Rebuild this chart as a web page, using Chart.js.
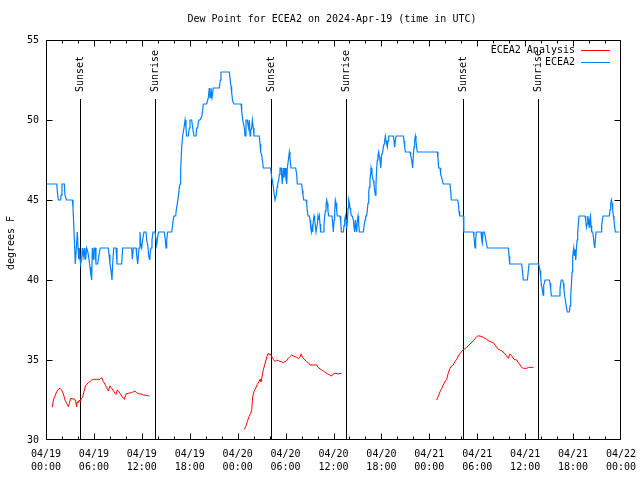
<!DOCTYPE html>
<html><head><meta charset="utf-8">
<script src="https://cdn.jsdelivr.net/npm/chart.js@4"></script>
<style>html,body{margin:0;padding:0;background:#fff}#wrap{width:640px;height:480px}</style>
</head><body><div id="wrap"><canvas id="c"></canvas></div>
<script>
// hours since 2024-04-19 00:00 UTC
const blueHours = [0,1.34,1.46,1.54,1.84,1.88,2.0,2.3,2.38,2.55,3.3,3.38,3.46,3.59,3.67,3.8,3.92,4.01,4.09,4.17,4.26,4.34,4.47,4.55,4.67,4.8,4.88,4.97,5.09,5.22,5.38,5.51,5.63,5.72,5.8,5.93,6.01,6.14,6.26,6.47,6.68,6.8,7.81,7.89,8.01,8.14,8.26,8.35,8.47,8.77,8.89,9.47,9.6,10.73,10.81,10.94,11.27,11.35,11.48,11.65,11.77,11.85,11.98,12.1,12.27,12.52,12.61,12.73,12.86,12.94,13.02,13.15,13.27,13.4,13.65,13.86,13.98,14.11,14.82,14.94,15.03,15.11,15.24,15.74,15.82,15.94,16.03,16.24,16.32,16.45,16.57,16.7,16.78,16.86,16.99,17.11,17.28,17.41,17.53,17.61,17.82,17.95,18.03,18.24,18.37,18.53,18.78,18.87,18.99,19.12,19.28,19.49,19.62,19.7,20.12,20.33,20.45,20.54,20.66,20.79,20.95,21.7,21.83,21.91,22.96,23.04,23.17,23.25,23.37,23.54,24.42,24.5,24.63,24.84,24.92,25.04,25.21,25.34,25.46,25.55,25.63,25.75,25.84,25.96,26.04,26.71,26.8,26.88,27.01,27.09,27.22,28.13,28.26,28.34,28.47,28.59,28.68,28.76,28.84,28.93,29.01,29.14,29.22,29.3,29.45,29.51,29.59,29.72,29.8,29.93,30.05,30.14,30.22,30.35,30.47,30.55,30.68,31.26,31.39,31.47,32.01,32.1,32.18,32.27,32.56,32.64,32.72,32.81,32.98,33.06,33.14,33.23,33.31,33.39,33.48,33.56,33.64,33.73,33.81,33.89,33.98,34.06,34.14,34.23,34.31,34.39,34.73,34.81,34.9,34.98,35.06,35.15,35.23,35.31,35.4,35.81,35.9,35.98,36.07,36.15,36.23,36.32,36.4,36.48,36.82,36.91,36.99,37.24,37.32,37.4,37.49,37.57,37.65,37.74,37.82,37.9,37.99,38.07,38.15,38.24,38.36,38.49,38.57,38.65,38.74,38.82,38.9,38.99,39.07,39.15,39.24,39.74,39.86,39.95,40.03,40.15,40.24,40.32,40.41,40.49,40.57,40.66,40.7,40.82,40.99,41.07,41.15,41.24,41.32,41.41,41.49,41.57,41.66,41.74,41.82,41.91,42.03,42.16,42.24,42.33,42.41,42.49,42.58,42.66,42.74,42.83,42.91,43.49,43.58,43.66,43.74,43.83,44.75,44.83,44.91,45.0,45.58,45.66,45.79,45.91,46.0,46.08,46.16,46.25,46.33,46.41,46.5,49.0,49.08,49.17,49.34,49.42,49.55,49.63,49.75,50.58,50.67,50.75,51.55,51.63,51.72,51.8,52.26,52.3,52.34,53.51,53.59,53.72,53.8,53.89,54.47,54.56,54.64,54.73,54.89,55.02,55.1,55.27,57.9,57.98,58.06,59.56,59.65,59.77,60.27,60.36,60.48,61.69,61.78,61.86,61.94,62.03,62.15,62.24,62.32,62.4,62.49,63.03,63.11,63.2,63.28,64.28,64.36,64.45,64.53,64.7,64.78,64.86,64.95,65.07,65.2,65.28,65.53,65.62,65.7,65.78,65.87,65.95,66.08,66.16,66.25,66.33,66.41,66.5,66.58,66.66,66.75,67.5,67.58,67.67,67.75,67.83,67.92,68.0,68.08,68.17,68.25,68.33,68.46,68.54,68.62,68.71,68.79,68.87,69.5,69.58,69.67,69.75,70.54,70.63,70.71,70.79,70.88,70.96,71.04,71.12,71.21,71.29,71.79];
const blueDew = [46,46,45.3,45,45,45.3,46,46,45.3,45,45,44.5,43.6,42,41,42,43,42,41.3,42,41.3,41,41.3,42,41.5,42,41.3,41.3,42,41.8,41.3,40.8,40.3,40,42,41.3,42,42,41,41,41.7,42,42,41.6,41,40.6,40,41,42,42,41,41,42,42,41.3,42,42,41.6,41,42,43,42.3,42,42.5,43,43,42.5,42.2,41.5,41.3,41.6,42,42.5,43,43,42.2,42.7,43,43,42.5,42,42.5,43,43,43.3,43.8,44,44,44.4,44.8,45.2,45.8,46,46.8,48.3,49,49.5,50,49.5,49,49,49.5,50,50,49.5,49,49,49.5,49.5,50,50,50.2,50.6,51,51,51.4,52,51.4,52,51.4,52,52,52.5,53,53,52.6,52.1,51.7,51.2,51,51,50.6,50,49.5,49,50,50,49.5,50,49,49.3,49.5,50,49.5,49,49,48.5,48,47.8,47.5,47,47,46.4,46.25,45.8,45.3,45,45,45.3,45.8,46,46.25,46.6,47,47,46.5,46,47,46.4,47,46.3,46,47,47.5,48,47.6,47,47,46.6,46,46,45.6,45.3,45,45,44.8,44.3,44,44,43.75,43.3,43,43.3,43,43.75,44,43.75,43.4,43,43,43.5,44,43.75,44,43.5,43,43,43.5,44,44.3,44.7,45,44.8,44.3,44,44,43.5,43,43.75,44.3,45,44.8,44.3,44,44,43.6,43,43,43.4,43.75,44,43.75,43.2,43.6,44.5,45,44.8,44.5,44.3,44,44,43.75,43.3,43,43.75,43.3,43,43.75,44,43.5,43,43,43.5,43.75,44,44,44.4,44.8,45.5,45.8,46.25,46.7,47,46.6,46.2,46,45.6,45.3,46,47,47.5,47.8,48,47.7,47.5,47,47.8,48,48.3,48.5,48.7,49,48.7,48.5,48.3,48.7,49,49,48.7,48.3,48.7,49,49,48.7,48.3,48,48,47.8,47.5,47,47.8,48.3,48.7,49,48.7,48.3,48,48,47.6,47,47,46.6,46.4,46.2,46,46,45.6,45,45,44.8,44.3,44,44,43.5,43,43,42.7,42,42.5,43,43,42.5,42.3,43,43,42.7,42.4,42,42,41.5,41,41,40.6,40,40,40.4,41,41,40.8,40.6,40.2,39.7,39.4,39.06,39.7,39.8,40,40,39.8,39.4,39,39,39.4,39.8,40,40,39.8,39.4,39,38.6,38.2,38,38,38.4,39,39.6,40.5,41.5,42,41.5,41.9,41.25,41.9,42.5,43,43.5,44,44,43.75,43.3,43.5,44,43.75,43.3,43.75,44,43.4,43,43,42.7,42.3,42,42.5,43,43,43.4,43.75,44,44,44.4,44.8,45,44.8,44.4,44,43.75,43.3,43,43];

const redHours = [0.79,0.92,1.13,1.34,1.54,1.75,1.96,2.17,2.38,2.59,2.8,2.92,3.09,3.42,3.59,3.71,3.84,3.92,4.05,4.17,4.3,4.42,4.59,4.76,4.93,5.09,5.3,5.51,5.72,5.93,6.34,6.76,6.97,7.18,7.39,7.6,7.81,8.01,8.22,8.43,8.64,8.77,8.93,9.06,9.27,9.47,9.68,9.81,10.02,10.31,10.73,11.14,11.35,11.65,11.9,12.19,12.61,12.94,
  18,
  24.84,25.04,25.21,25.42,25.63,25.76,25.88,26.05,26.25,26.46,26.67,26.8,26.92,27.09,27.21,27.38,27.55,27.72,27.84,27.96,28.09,28.26,28.47,28.68,28.88,29.09,29.3,29.51,29.72,29.93,30.14,30.34,30.55,30.76,30.97,31.18,31.39,31.6,31.8,31.93,32.05,32.22,32.43,32.64,32.85,33.06,33.47,33.89,34.1,34.31,34.52,34.73,34.94,35.15,35.35,35.56,35.77,35.98,36.19,36.61,37.02,
  43,
  48.92,49.13,49.34,49.55,49.75,49.96,50.17,50.38,50.58,50.79,51.0,51.21,51.42,51.63,51.84,52.05,52.25,52.67,53.09,53.51,53.93,54.05,54.34,54.76,55.18,55.6,56.01,56.22,56.64,57.06,57.48,57.77,57.89,58.1,58.31,58.61,58.94,59.15,59.36,59.57,59.78,60.19,60.4,61.03];
const redDew = [32.04,32.5,32.75,33.02,33.17,33.23,33.12,32.88,32.5,32.29,32.08,32.29,32.6,32.56,32.56,32.4,32.08,32.4,32.33,32.5,32.4,32.6,32.67,33.02,33.38,33.48,33.58,33.65,33.75,33.79,33.79,33.79,33.9,33.65,33.48,33.27,33.06,33.38,33.23,33.08,32.92,32.85,33.13,33.06,32.92,32.75,32.6,32.54,32.88,32.92,32.96,33.06,32.96,32.88,32.88,32.81,32.79,32.75,
  null,
  30.67,30.88,31.15,31.46,31.67,31.88,32.71,33.02,33.23,33.48,33.65,33.79,33.65,34.06,34.38,34.69,35.0,35.31,35.42,35.31,35.38,35.21,35.04,34.9,35.0,34.96,34.92,34.88,34.83,34.9,34.96,35.1,35.21,35.31,35.25,35.21,35.17,35.1,35.17,35.38,35.25,35.1,35.0,34.9,34.83,34.69,34.69,34.69,34.52,34.44,34.38,34.31,34.23,34.17,34.1,34.06,34.0,34.13,34.17,34.13,34.17,
  null,
  32.5,32.75,33.02,33.23,33.44,33.65,33.79,34.2,34.48,34.63,34.69,34.9,35.04,35.25,35.42,35.52,35.63,35.79,36.0,36.21,36.46,36.5,36.5,36.42,36.29,36.15,36.08,35.94,35.67,35.58,35.38,35.17,35.1,35.38,35.27,35.04,35.0,34.83,34.69,34.54,34.48,34.48,34.54,34.54];

const eventHours = [4.30, 13.69, 28.22, 37.61, 52.26, 61.65];
const eventLabels = ['Sunset','Sunrise','Sunset','Sunrise','Sunset','Sunrise'];

const tickDates = ['04/19','04/19','04/19','04/19','04/20','04/20','04/20','04/20','04/21','04/21','04/21','04/21','04/22'];
const tickTimes = ['00:00','06:00','12:00','18:00','00:00','06:00','12:00','18:00','00:00','06:00','12:00','18:00','00:00'];
const yTicks = [30,35,40,45,50,55];

const titleText = 'Dew Point for ECEA2 on 2024-Apr-19 (time in UTC)';
const yAxisTitle = 'degrees F';
const seriesNames = ['ECEA2 Analysis','ECEA2'];
const seriesColors = ['#ff0000','#0080ff'];

const FONT = '10px "DejaVu Sans Mono", "Liberation Mono", monospace';
Chart.defaults.color = '#000';
Chart.defaults.font.family = '"DejaVu Sans Mono", "Liberation Mono", monospace';
Chart.defaults.font.size = 10;

const overlay = {
  id: 'overlay',
  beforeDatasetsDraw(chart) {
    const {ctx, chartArea: a, scales: {x}} = chart;
    ctx.save();
    ctx.strokeStyle = '#000'; ctx.lineWidth = 1; ctx.fillStyle = '#000'; ctx.font = FONT;
    const top = a.bottom - 0.8525 * (a.bottom - a.top);
    eventHours.forEach((h, i) => {
      const px = Math.round(x.getPixelForValue(h)) + 0.5;
      ctx.beginPath(); ctx.moveTo(px, a.bottom); ctx.lineTo(px, top); ctx.stroke();
      ctx.save(); ctx.translate(px, top - 7); ctx.rotate(-Math.PI / 2);
      ctx.textAlign = 'left'; ctx.textBaseline = 'middle';
      ctx.fillText(eventLabels[i], 0, 0); ctx.restore();
    });
    ctx.restore();
  },
  afterDraw(chart) {
    const {ctx, chartArea: a, scales: {x, y}} = chart;
    ctx.save();
    ctx.strokeStyle = '#000'; ctx.lineWidth = 1;
    const L = Math.round(a.left) + 0.5, R = Math.round(a.right) - 0.5;
    const T = Math.round(a.top) + 0.5, B = Math.round(a.bottom) - 0.5;
    ctx.strokeRect(L, T, R - L, B - T);
    ctx.beginPath();
    for (let h = 2; h < 72; h += 2) {
      const px = Math.round(x.getPixelForValue(h)) + 0.5;
      const len = (h % 6 === 0) ? 6 : 3;
      ctx.moveTo(px, B); ctx.lineTo(px, B - len);
      ctx.moveTo(px, T); ctx.lineTo(px, T + len);
    }
    yTicks.forEach(v => {
      if (v === 30 || v === 55) return;
      const py = Math.round(y.getPixelForValue(v)) + 0.5;
      ctx.moveTo(L, py); ctx.lineTo(L + 6, py);
      ctx.moveTo(R, py); ctx.lineTo(R - 6, py);
    });
    ctx.stroke();
    ctx.fillStyle = '#000'; ctx.font = FONT;
    ctx.textAlign = 'center'; ctx.textBaseline = 'middle';
    ctx.fillText(titleText, 332, 19);
    ctx.save(); ctx.translate(11, 243); ctx.rotate(-Math.PI / 2);
    ctx.fillText(yAxisTitle, 0, 0); ctx.restore();
    ctx.textAlign = 'right';
    seriesNames.forEach((n, i) => {
      const ly = 50 + i * 12;
      ctx.fillStyle = '#000';
      ctx.fillText(n, 575, ly);
      ctx.strokeStyle = seriesColors[i]; ctx.lineWidth = 1;
      ctx.beginPath(); ctx.moveTo(581, ly + 0.5); ctx.lineTo(610, ly + 0.5); ctx.stroke();
    });
    ctx.restore();
  }
};

new Chart(document.getElementById('c'), {
  type: 'line',
  data: {
    datasets: [
      { label: seriesNames[0], data: redHours.map((h, i) => ({x: h, y: redDew[i]})),
        borderColor: seriesColors[0], borderWidth: 1, pointRadius: 0, tension: 0, spanGaps: false },
      { label: seriesNames[1], data: blueHours.map((h, i) => ({x: h, y: blueDew[i]})),
        borderColor: seriesColors[1], borderWidth: 1.2, pointRadius: 0, tension: 0 }
    ]
  },
  options: {
    responsive: true, maintainAspectRatio: false, animation: false, devicePixelRatio: 1,
    layout: { padding: { top: 40, right: 19, bottom: 0, left: 0 } },
    plugins: { legend: { display: false }, title: { display: false }, tooltip: { enabled: false } },
    scales: {
      x: {
        type: 'linear', min: 0, max: 72,
        grid: { display: false, drawTicks: false }, border: { display: false },
        ticks: { stepSize: 6, autoSkip: false, maxRotation: 0, padding: 8,
          font: { lineHeight: 1.3 },
          callback: (v) => { const k = Math.round(v / 6); return [tickDates[k], tickTimes[k]]; } },
        afterFit: (s) => { s.height = 40; s.paddingLeft = 0; s.paddingRight = 0; }
      },
      y: {
        min: 30, max: 55,
        grid: { display: false, drawTicks: false }, border: { display: false },
        ticks: { stepSize: 5, padding: 7 },
        afterFit: (s) => { s.width = 46; s.paddingTop = 0; s.paddingBottom = 0; }
      }
    }
  },
  plugins: [overlay]
});
</script></body></html>
